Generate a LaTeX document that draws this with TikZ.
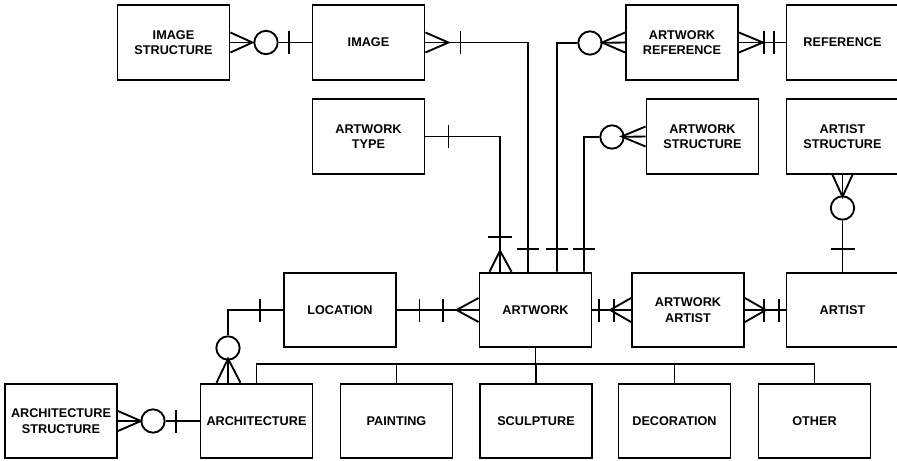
\documentclass[tikz,border=0pt]{standalone}
\usepackage{fontspec}
\setmainfont{Liberation Sans}
\usetikzlibrary{calc}

\tikzset{AWbox/.style={draw,line width=1.4pt,minimum width=84pt,minimum height=56pt,align=center,inner sep=2pt,
                       font=\bfseries\fontsize{9.5}{11.5}\selectfont},
         AWzero/.style={circle,draw,fill=white,line width=1.4pt,inner sep=0pt,minimum size=17.5pt},
         AWln/.style={line width=1.4pt}}

\begin{document}
\begin{tikzpicture}[x=0.75pt,y=-0.75pt,AWln]
  \useasboundingbox (0,0) rectangle (897,461);
  % entities
  \foreach \n/\x/\y/\t in {imgs/173.5/42.5/IMAGE\\STRUCTURE, img/368.5/42.5/IMAGE,
      aref/682/42.5/ARTWORK\\REFERENCE, ref/842.5/42.5/REFERENCE,
      atype/368.5/136.5/ARTWORK\\TYPE, astr/702.5/136.5/ARTWORK\\STRUCTURE,
      arts/842.5/136.5/ARTIST\\STRUCTURE, loc/340/310/LOCATION, awk/535.5/310/ARTWORK,
      aart/688/310/ARTWORK\\ARTIST, artist/842.5/310/ARTIST, archs/61/421/ARCHITECTURE\\STRUCTURE,
      arch/256.5/421/ARCHITECTURE, paint/396.5/421/PAINTING, sculp/536/421/SCULPTURE,
      deco/674.5/421/DECORATION, other/814.5/421/OTHER}
    \node[AWbox] (\n) at (\x,\y) {\t};

  % subtypes of artwork
  \coordinate (hub) at ($(awk.south)+(0,16)$);
  \draw (awk.south) -- (hub);
  \draw (arch.north) |- (hub) -| (other.north);
  \foreach \n in {paint,sculp,deco} \draw (\n.north) -- (\n.north |- hub);

  % optional ends
  \node[AWzero] (z1) at (266,42.5) {};
  \node[AWzero] (z2) at (590,43) {};
  \node[AWzero] (z3) at (612,137) {};
  \node[AWzero] (z4) at (842.5,208) {};
  \node[AWzero] (z5) at (228,348) {};
  \node[AWzero] (z6) at (153,421) {};

  % image structure -- image
  \draw (imgs.east) -- (z1) -- (img.west);
  \draw ($(imgs.east)+(0,-10)$) -- ($(imgs.east)+(22,0)$) -- ($(imgs.east)+(0,10)$);
  \draw ($(img.west)+(-23,-11.5)$) -- ++(0,23);

  % image -- artwork
  \draw (img.east) -| ($(awk.north)+(-7.5,0)$);
  \draw ($(img.east)+(0,-10)$) -- ($(img.east)+(23,0)$) -- ($(img.east)+(0,10)$);
  \draw ($(img.east)+(35,-11.5)$) -- ++(0,23);
  \draw ($(awk.north)+(-18.5,-22.5)$) -- ++(22,0);

  % artwork type -- artwork
  \draw (atype.east) -| ($(awk.north)+(-35.5,0)$);
  \draw ($(atype.east)+(23,-11.5)$) -- ++(0,23);
  \draw ($(awk.north)+(-47.5,-35)$) -- ++(24,0);
  \draw ($(awk.north)+(-46,0)$) -- ($(awk.north)+(-35.5,-21)$) -- ($(awk.north)+(-24,0)$);

  % artwork reference -- artwork
  \draw (aref.west) -- (z2) -| ($(awk.north)+(21.5,0)$);
  \draw ($(aref.west)+(0,-10)$) -- ($(aref.west)+(-23,0)$) -- ($(aref.west)+(0,10)$);
  \draw ($(awk.north)+(10.5,-22.5)$) -- ++(22,0);

  % artwork reference -- reference
  \draw (aref.east) -- (ref.west);
  \draw ($(aref.east)+(0,-10)$) -- ($(aref.east)+(24,0)$) -- ($(aref.east)+(0,10)$);
  \foreach \d in {25,35} \draw ($(aref.east)+(\d,-11.5)$) -- ++(0,23);

  % artwork structure -- artwork
  \draw (astr.west) -- (z3) -| ($(awk.north)+(48.5,0)$);
  \draw ($(astr.west)+(0,-10)$) -- ($(astr.west)+(-24,0)$) -- ($(astr.west)+(0,10)$);
  \draw ($(awk.north)+(37.5,-22.5)$) -- ++(22,0);

  % artist structure -- artist
  \draw (arts.south) -- (z4) -- (artist.north);
  \draw ($(arts.south)+(-10,0)$) -- ($(arts.south)+(0,22)$) -- ($(arts.south)+(10,0)$);
  \draw ($(artist.north)+(-12,-22.5)$) -- ++(24,0);

  % location -- artwork
  \draw (loc.east) -- (awk.west);
  \draw ($(loc.east)+(22.5,-11.5)$) -- ++(0,23);
  \draw ($(awk.west)+(-36,-11.5)$) -- ++(0,23);
  \draw ($(awk.west)+(0,-12)$) -- ($(awk.west)+(-22,0)$) -- ($(awk.west)+(0,12)$);

  % artwork -- artwork artist
  \draw (awk.east) -- (aart.west);
  \draw ($(awk.east)+(6.5,-11.5)$) -- ++(0,23);
  \draw ($(aart.west)+(-17,-11.5)$) -- ++(0,23);
  \draw ($(aart.west)+(0,-12)$) -- ($(aart.west)+(-21,0)$) -- ($(aart.west)+(0,12)$);

  % artwork artist -- artist
  \draw (aart.east) -- (artist.west);
  \draw ($(aart.east)+(0,-12)$) -- ($(aart.east)+(21,0)$) -- ($(aart.east)+(0,12)$);
  \draw ($(aart.east)+(19,-11.5)$) -- ++(0,23);
  \draw ($(artist.west)+(-6.5,-11.5)$) -- ++(0,23);

  % location -- architecture
  \draw (loc.west) -| (z5) -- ($(arch.north)+(-28.5,0)$);
  \draw ($(loc.west)+(-23.5,-11.5)$) -- ++(0,23);
  \draw ($(arch.north)+(-40,0)$) -- ($(arch.north)+(-28.5,-24)$) -- ($(arch.north)+(-16,0)$);

  % architecture structure -- architecture
  \draw (archs.east) -- (z6) -- (arch.west);
  \draw ($(archs.east)+(0,-10)$) -- ($(archs.east)+(23,0)$) -- ($(archs.east)+(0,10)$);
  \draw ($(arch.west)+(-23.5,-11.5)$) -- ++(0,23);
\end{tikzpicture}
\end{document}
